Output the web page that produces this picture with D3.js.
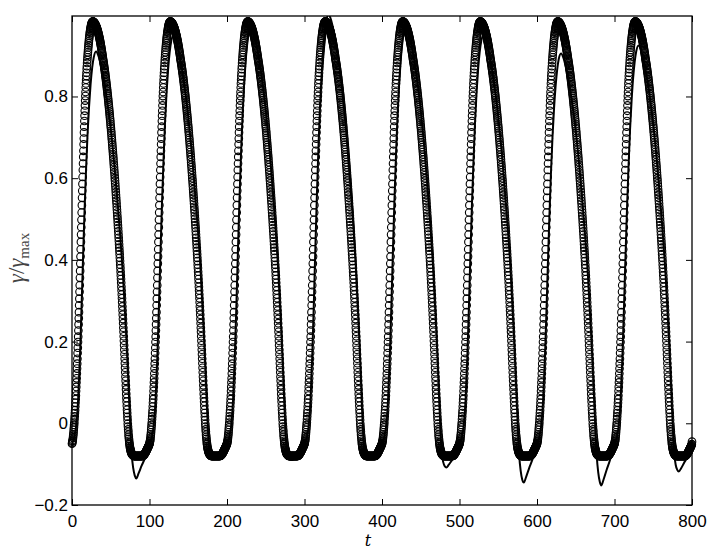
<!DOCTYPE html>
<html><head><meta charset="utf-8">
<script src="https://cdn.jsdelivr.net/npm/d3@7"></script>
<style>body{margin:0;background:#fff}</style>
</head><body>
<svg id="chart" width="714" height="550"></svg>
<script>
// ---- data ----
const xTicks = [0,100,200,300,400,500,600,700,800];
const yTicks = [-0.2,0,0.2,0.4,0.6,0.8];
const yTickLabels = ["\u22120.2","0","0.2","0.4","0.6","0.8"];
const xLabel = "t";
// circle markers: one period (t step 0.25, values x1000); the markers repeat this same period every cycle
const circlePeriod = [
-50,-48,-45,-43, -40,-36,-31,-27, -22,-16,-10,-4, 2,10,17,25, 32,41,50,59,
68,79,89,100, 110,122,134,146, 158,172,185,199, 212,227,242,257, 272,289,305,322,
338,356,373,391, 408,426,444,462, 480,498,516,534, 552,569,586,603, 620,636,652,667,
683,697,712,726, 740,753,765,778, 790,801,811,822, 832,841,850,858, 867,874,882,889,
896,902,908,914, 920,925,930,935, 940,944,948,952, 956,959,962,965, 968,970,973,975,
977,978,980,981, 982,982,983,983, 983,983,983,982, 982,982,981,981, 980,979,979,978,
977,976,975,974, 973,972,971,969, 968,967,965,964, 962,960,959,957, 955,953,951,949,
947,945,943,940, 938,936,933,931, 928,925,923,920, 917,914,911,908, 905,902,899,895,
892,889,886,883, 880,877,874,870, 867,864,860,857, 853,849,846,842, 838,834,830,826,
822,818,814,809, 805,801,796,792, 787,782,778,773, 768,763,758,753, 748,743,738,732,
727,722,716,711, 705,699,694,688, 682,676,670,664, 658,652,646,639, 633,627,620,614,
607,600,594,587, 580,573,566,559, 552,545,538,530, 523,516,508,501, 493,485,478,470,
462,454,446,438, 430,422,414,405, 397,388,380,371, 362,353,344,334, 325,315,306,296,
286,276,266,255, 245,234,224,213, 202,191,180,169, 158,147,136,125, 114,104,93,83,
72,62,53,43, 33,25,16,8, -1,-8,-15,-21, -28,-33,-38,-43, -48,-51,-55,-58,
-61,-63,-65,-67, -69,-70,-72,-73, -74,-75,-76,-76, -77,-77,-78,-78, -79,-79,-80,-80,
-80,-80,-80,-80, -80,-80,-80,-80, -80,-80,-80,-80, -80,-80,-80,-80, -80,-80,-80,-80,
-80,-80,-80,-80, -80,-80,-80,-80, -80,-80,-80,-80, -80,-80,-80,-80, -80,-80,-80,-80,
-80,-80,-80,-80, -80,-80,-79,-79, -79,-78,-78,-77, -77,-76,-76,-75, -74,-73,-72,-72,
-71,-70,-69,-68, -67,-66,-65,-64, -63,-62,-61,-60, -59,-58,-57,-56, -55,-54,-52,-51];
const circleCycles = 8;
const circleEnd = -45;
// solid line: key points per cycle (phase within the cycle, value)
const linePhase = [0,3,6,8,10,12,14,16,18,20,22,24,26,28,31,34,38,42,46,50,54,58,62,66,70,73,75,77,79,81,83,86,90,94,97];
const lineCycles = [
[-.050,-.035,.005,.060,.150,.265,.390,.510,.615,.705,.775,.830,.870,.895,.910,.900,.870,.830,.780,.720,.645,.560,.465,.355,.215,.090,.000,-.075,-.110,-.128,-.135,-.122,-.103,-.086,-.068],
[-.053,-.035,.005,.063,.157,.276,.408,.532,.642,.736,.809,.866,.908,.935,.950,.940,.908,.866,.814,.751,.674,.584,.485,.371,.224,.094,.000,-.062,-.078,-.085,-.086,-.085,-.080,-.074,-.065],
[-.054,-.035,.005,.064,.160,.282,.416,.543,.656,.752,.826,.885,.927,.954,.970,.959,.927,.885,.831,.767,.688,.597,.496,.378,.229,.096,.000,-.064,-.081,-.088,-.090,-.088,-.082,-.075,-.066],
[-.054,-.035,.005,.066,.165,.291,.429,.560,.676,.775,.852,.912,.956,.984,1.000,.989,.956,.912,.857,.791,.709,.615,.511,.390,.236,.099,.000,-.062,-.078,-.085,-.086,-.085,-.080,-.074,-.065],
[-.054,-.035,.005,.064,.160,.282,.416,.543,.656,.752,.826,.885,.927,.954,.970,.959,.927,.885,.831,.767,.688,.597,.496,.378,.229,.096,.000,-.070,-.095,-.105,-.108,-.102,-.091,-.080,-.067],
[-.053,-.035,.005,.063,.157,.276,.408,.532,.642,.736,.809,.866,.908,.935,.950,.940,.908,.866,.814,.751,.674,.584,.485,.371,.224,.094,.000,-.078,-.117,-.138,-.145,-.131,-.109,-.089,-.069],
[-.052,-.035,.005,.060,.149,.263,.388,.507,.612,.701,.771,.825,.865,.891,.905,.895,.865,.825,.776,.716,.642,.557,.462,.353,.214,.090,.000,-.078,-.120,-.143,-.152,-.137,-.113,-.091,-.070],
[-.053,-.035,.005,.061,.153,.269,.397,.518,.625,.717,.788,.844,.884,.910,.925,.915,.884,.844,.793,.732,.656,.569,.473,.361,.218,.092,.000,-.072,-.102,-.114,-.118,-.110,-.096,-.083,-.068]];
const lineEnd = -.048;

// ---- build point lists ----
const circlePts = [];
for (let c = 0; c < circleCycles; c++)
  circlePeriod.forEach((v, i) => circlePts.push({t: c*100 + i*0.25, v: v/1000}));
circlePts.push({t: 800, v: circleEnd/1000});
const linePts = [];
lineCycles.forEach((vals, c) => vals.forEach((v, i) => linePts.push({t: c*100 + linePhase[i], v})));
linePts.push({t: 800, v: lineEnd});

// ---- chart ----
const L = 72, R = 692, T = 16, B = 505;
const svg = d3.select("#chart");
const x = d3.scaleLinear().domain([0, 800]).range([L, R]);
const y = d3.scaleLinear().domain([-0.2, 0.997]).range([B, T]);
const font = "'Liberation Sans', Arial, Helvetica, sans-serif";

svg.append("defs").append("clipPath").attr("id","clip")
  .append("rect").attr("x",L).attr("y",T).attr("width",R-L).attr("height",B-T);

svg.append("g").selectAll("circle").data(circlePts).join("circle")
  .attr("cx", d => x(d.t)).attr("cy", d => y(d.v)).attr("r", 3.8)
  .attr("fill","none").attr("stroke","#000").attr("stroke-width",1.1);

svg.append("path").datum(linePts)
  .attr("clip-path","url(#clip)")
  .attr("fill","none").attr("stroke","#000").attr("stroke-width",2)
  .attr("d", d3.line().x(d => x(d.t)).y(d => y(d.v)).curve(d3.curveMonotoneX));

// frame
svg.append("rect").attr("x",L).attr("y",T).attr("width",R-L).attr("height",B-T)
  .attr("fill","none").attr("stroke","#000").attr("stroke-width",1.3);

function styleAxis(g){
  g.select(".domain").remove();
  g.selectAll(".tick line").attr("stroke","#000").attr("stroke-width",1);
  g.selectAll("text").attr("font-family",font).attr("font-size",17).attr("fill","#000");
}
svg.append("g").attr("transform",`translate(0,${B})`)
  .call(d3.axisBottom(x).tickValues(xTicks).tickFormat(d3.format("d")).tickSizeInner(-6).tickSizeOuter(0).tickPadding(10))
  .call(styleAxis);
svg.append("g").attr("transform",`translate(0,${T})`)
  .call(d3.axisTop(x).tickValues(xTicks).tickFormat("").tickSizeInner(-6).tickSizeOuter(0))
  .call(styleAxis);
svg.append("g").attr("transform",`translate(${L},0)`)
  .call(d3.axisLeft(y).tickValues(yTicks).tickFormat((d,i) => yTickLabels[i]).tickSizeInner(-6).tickSizeOuter(0).tickPadding(4))
  .call(styleAxis);
svg.append("g").attr("transform",`translate(${R},0)`)
  .call(d3.axisRight(y).tickValues(yTicks).tickFormat("").tickSizeInner(-6).tickSizeOuter(0))
  .call(styleAxis);

// axis labels
svg.append("text").attr("x",368).attr("y",546).attr("text-anchor","middle")
  .attr("font-family","'DejaVu Serif', 'Liberation Serif', serif").attr("font-style","italic")
  .attr("font-size",16).text(xLabel);
const yl = svg.append("text").attr("transform","translate(24,258) rotate(-90)")
  .attr("text-anchor","middle").attr("font-family","'Liberation Serif', 'DejaVu Serif', serif")
  .attr("font-size",23).attr("fill","#444");
yl.append("tspan").attr("font-style","italic").text("γ");
yl.append("tspan").text("/");
yl.append("tspan").attr("font-style","italic").text("γ");
yl.append("tspan").attr("font-size",15).attr("dy",5).text("max");
</script>
</body></html>
